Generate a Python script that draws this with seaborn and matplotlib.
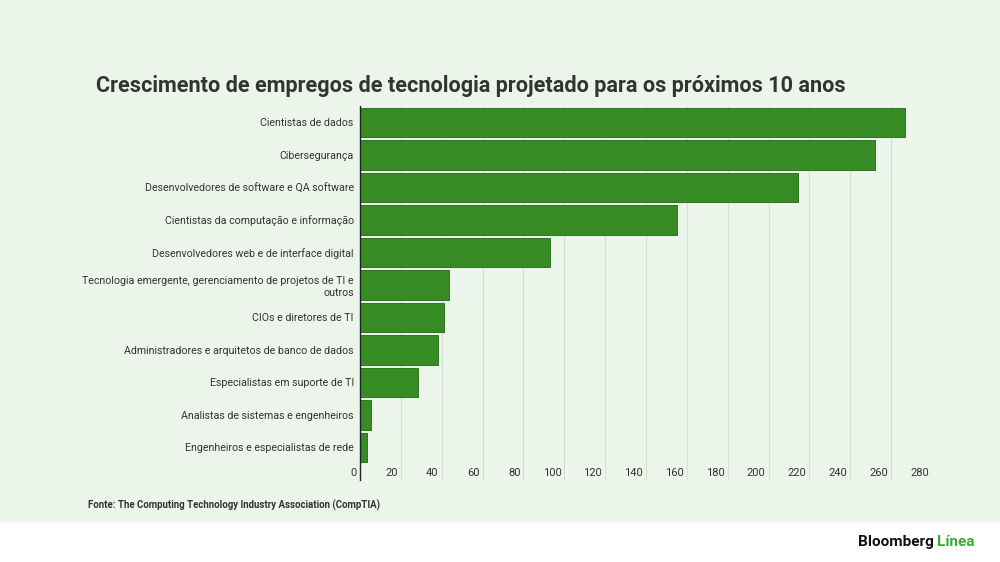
import matplotlib
matplotlib.use("Agg")
import matplotlib.pyplot as plt
import matplotlib.transforms as mtransforms
import seaborn as sns
import pandas as pd

# Dados (milhares de vagas projetadas)
categorias = [
    "Cientistas de dados",
    "Cibersegurança",
    "Desenvolvedores de software e QA software",
    "Cientistas da computação e informação",
    "Desenvolvedores web e de interface digital",
    "Tecnologia emergente, gerenciamento de projetos de TI e\noutros",
    "CIOs e diretores de TI",
    "Administradores e arquitetos de banco de dados",
    "Especialistas em suporte de TI",
    "Analistas de sistemas e engenheiros",
    "Engenheiros e especialistas de rede",
]
valores = [267, 252, 214.5, 155, 93, 43.5, 41.2, 38.4, 28.3, 5.4, 3.3]
ticks_x = list(range(0, 281, 20))

titulo = "Crescimento de empregos de tecnologia projetado para os próximos 10 anos"
fonte = "Fonte: The Computing Technology Industry Association (CompTIA)"

BG = "#ecf5e9"
BAR = "#368b24"
EDGE = "#2e741f"
TXT = "#333333"

sns.set_style("white")
plt.rcParams["font.family"] = ["Roboto", "DejaVu Sans"]

df = pd.DataFrame({"categoria": categorias, "valor": valores})

fig = plt.figure(figsize=(10, 5.62), dpi=100)
fig.patch.set_facecolor("white")
# faixa verde de fundo
fig.patches.append(plt.Rectangle((0, 1 - 521 / 562), 1, 521 / 562,
                                 transform=fig.transFigure, color=BG, zorder=-10))

ax = fig.add_axes([0.36, 1 - 480 / 562, 0.572, (480 - 106) / 562])
ax.set_facecolor("none")

sns.barplot(data=df, y="categoria", x="valor", orient="h", color=BAR,
            width=0.895, edgecolor=EDGE, linewidth=0.7, saturation=1, ax=ax)

ax.set_xlim(0, 280)
ax.set_ylim(11.0, -0.5075)
ax.set_xticks(ticks_x)
ax.set_xlabel("")
ax.set_ylabel("")

ax.grid(axis="x", color="#d6dfd3", linewidth=0.8)
ax.set_axisbelow(True)
for s in ["top", "right", "bottom"]:
    ax.spines[s].set_visible(False)
ax.spines["left"].set_color("#222222")
ax.spines["left"].set_linewidth(1.0)

ax.tick_params(axis="y", length=0, pad=4.5, labelsize=7.7, labelcolor=TXT)
ax.tick_params(axis="x", length=0, pad=-8.5, labelsize=8, labelcolor=TXT)
offset = mtransforms.ScaledTranslation(-3 / 100, 0, fig.dpi_scale_trans)
for lbl in ax.get_xticklabels():
    lbl.set_horizontalalignment("right")
    lbl.set_transform(lbl.get_transform() + offset)
for lbl in ax.get_yticklabels():
    lbl.set_linespacing(1.3)

fig.text(0.096, 1 - 86 / 562, titulo, fontsize=15.6, fontweight="bold",
         color=TXT, va="center", ha="left")
fig.text(0.088, 1 - 505 / 562, fonte, fontsize=6.9, fontweight="bold",
         color=TXT, va="center", ha="left")

t1 = fig.text(0.858, 1 - 542 / 562, "Bloomberg", fontsize=11, fontweight="bold",
              color="#111111", va="center", ha="left")
fig.canvas.draw()
bb = t1.get_window_extent()
fig.text(bb.x1 / fig.bbox.width + 0.003, 1 - 542 / 562, "Línea", fontsize=11,
         fontweight="bold", color="#3aa935", va="center", ha="left")

fig.savefig("out.png", dpi=100, facecolor=fig.get_facecolor())
